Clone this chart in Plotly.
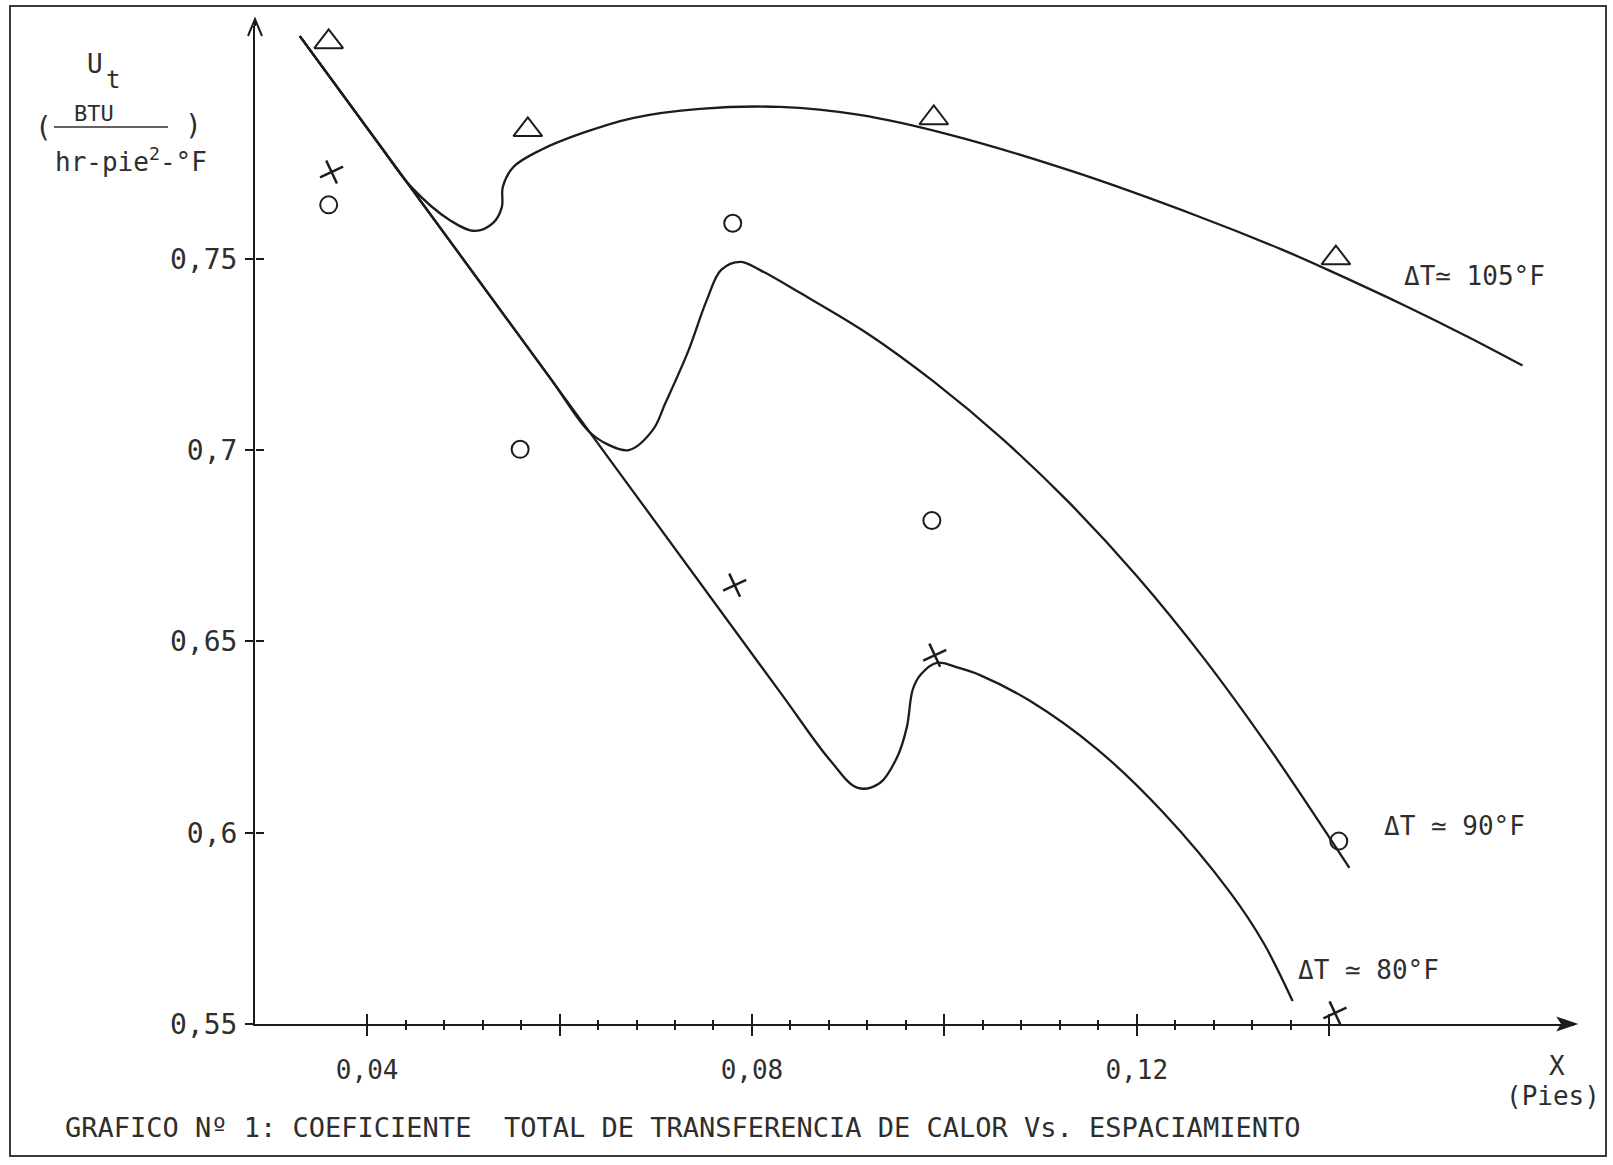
import plotly.graph_objects as go

# ---------------- data ----------------
# Hand-drawn curves (X in pies, Ut in BTU/hr-pie2-F)
curve105_x = [0.0330, 0.0413, 0.0445, 0.0486, 0.0512, 0.0531, 0.0540, 0.0541, 0.0552, 0.0580,
              0.0624, 0.0676, 0.0746, 0.0829, 0.0912, 0.1006, 0.1135, 0.1265, 0.1351, 0.1397,
              0.1480, 0.1545, 0.1601]
curve105_y = [0.8082, 0.7797, 0.7690, 0.7601, 0.7573, 0.7594, 0.7635, 0.7688, 0.7740, 0.7784,
              0.7829, 0.7868, 0.7892, 0.7897, 0.7876, 0.7824, 0.7727, 0.7610, 0.7524, 0.7473,
              0.7376, 0.7295, 0.7221]

curve90_x = [0.0330, 0.0460, 0.0590, 0.0630, 0.0650, 0.0672, 0.0697, 0.0710, 0.0733, 0.0753,
             0.0768, 0.0788, 0.0808, 0.0850, 0.0920, 0.0990, 0.1060, 0.1130, 0.1200, 0.1270,
             0.1340, 0.1421]
curve90_y = [0.8082, 0.7636, 0.7189, 0.7050, 0.7015, 0.7000, 0.7053, 0.7123, 0.7254, 0.7392,
             0.7471, 0.7492, 0.7471, 0.7411, 0.7305, 0.7177, 0.7030, 0.6862, 0.6671, 0.6455,
             0.6213, 0.5908]

curve80_x = [0.0330, 0.0560, 0.0829, 0.0881, 0.0910, 0.0933, 0.0951, 0.0961, 0.0967, 0.0975,
             0.0992, 0.1016, 0.1037, 0.1088, 0.1158, 0.1227, 0.1297, 0.1332, 0.1362]
curve80_y = [0.8082, 0.7292, 0.6368, 0.6190, 0.6117, 0.6130, 0.6198, 0.6276, 0.6373, 0.6412,
             0.6444, 0.6430, 0.6412, 0.6346, 0.6220, 0.6054, 0.5844, 0.5711, 0.5560]

# Measured points
tri_x = [0.0360, 0.0567, 0.0989, 0.1407]            # dT ~ 105 F
tri_y = [0.8067, 0.7837, 0.7868, 0.7502]
circ_x = [0.0360, 0.0559, 0.0780, 0.0987, 0.1410]   # dT ~ 90 F
circ_y = [0.7641, 0.7002, 0.7593, 0.6816, 0.5978]
cross_x = [0.0363, 0.0782, 0.0990, 0.1406]          # dT ~ 80 F
cross_y = [0.7727, 0.6647, 0.6464, 0.5529]

x_tickvals = [0.04, 0.06, 0.08, 0.10, 0.12, 0.14]
x_ticktext = ["0,04", " ", "0,08", " ", "0,12", " "]
y_tickvals = [0.55, 0.60, 0.65, 0.70, 0.75]
y_ticktext = ["0,55", "0,6", "0,65", "0,7", "0,75"]

series_labels = ["ΔT≃ 105°F", "ΔT ≃ 90°F", "ΔT ≃ 80°F"]
caption = "GRAFICO Nº 1: COEFICIENTE  TOTAL DE TRANSFERENCIA DE CALOR Vs. ESPACIAMIENTO"

# ---------------- layout geometry ----------------
W, H = 1613, 1165
L, R, T, B = 255, 1574, 26, 1024
X_RANGE = [0.02834, 0.16545]
Y_RANGE = [0.55, 0.81085]
FONT = "DejaVu Sans Mono"
INK = "#1c1c1c"
TXT = "#2e2e2e"


def px(x):
    return (x - L) / (R - L)


def py(y):
    return (B - y) / (B - T)


minor_vals = [round(a + k * 0.004, 4) for a in x_tickvals[:-1] for k in range(1, 5)]

fig = go.Figure()
line_style = dict(color=INK, width=2.3, shape="spline", smoothing=1.0)
for cx, cy in [(curve105_x, curve105_y), (curve90_x, curve90_y), (curve80_x, curve80_y)]:
    fig.add_trace(go.Scatter(x=cx, y=cy, mode="lines", line=line_style,
                             showlegend=False, hoverinfo="skip"))

# markers: triangles placed on the overlay axes (same ranges) so those axes are drawn
fig.add_trace(go.Scatter(x=tri_x, y=tri_y, mode="markers", showlegend=False,
                         xaxis="x2", yaxis="y2",
                         marker=dict(symbol="triangle-up-open", size=25, color=INK,
                                     line=dict(width=2, color=INK))))
fig.add_trace(go.Scatter(x=circ_x, y=circ_y, mode="markers", showlegend=False,
                         marker=dict(symbol="circle-open", size=17, color=INK,
                                     line=dict(width=2, color=INK))))
fig.add_trace(go.Scatter(x=cross_x, y=cross_y, mode="markers", showlegend=False,
                         marker=dict(symbol="x-thin", size=18, angle=20, color=INK,
                                     line=dict(width=2.5, color=INK))))

fig.update_layout(
    width=W, height=H,
    margin=dict(l=L, r=W - R, t=T, b=H - B, pad=0),
    paper_bgcolor="white", plot_bgcolor="white",
    font=dict(family=FONT, color=TXT),
    xaxis=dict(range=X_RANGE, showgrid=False, zeroline=False, showline=True,
               linecolor=INK, linewidth=2, ticks="outside", ticklen=10, tickwidth=2,
               tickcolor=INK, tickmode="array", tickvals=x_tickvals, ticktext=x_ticktext,
               tickfont=dict(family=FONT, size=26, color=TXT), ticklabelstandoff=12,
               minor=dict(tickmode="array", tickvals=minor_vals, ticks="outside",
                          ticklen=4, tickwidth=1.5, tickcolor=INK)),
    # upper halves of the crossing tick marks
    xaxis2=dict(range=X_RANGE, overlaying="x", anchor="free", position=0, side="top",
                showgrid=False, zeroline=False, showline=False, ticks="outside",
                ticklen=10, tickwidth=2, tickcolor=INK, tickmode="array",
                tickvals=x_tickvals, showticklabels=False,
                minor=dict(tickmode="array", tickvals=minor_vals, ticks="outside",
                           ticklen=4, tickwidth=1.5, tickcolor=INK)),
    yaxis=dict(range=Y_RANGE, showgrid=False, zeroline=False, showline=True,
               linecolor=INK, linewidth=2, ticks="outside", ticklen=8, tickwidth=2,
               tickcolor=INK, tickmode="array", tickvals=y_tickvals, ticktext=y_ticktext,
               tickfont=dict(family=FONT, size=28, color=TXT), ticklabelstandoff=2),
    # right halves of the crossing tick marks
    yaxis2=dict(range=Y_RANGE, overlaying="y", anchor="free", position=0, side="right",
                showgrid=False, zeroline=False, showline=False, ticks="outside",
                ticklen=8, tickwidth=2, tickcolor=INK, tickmode="array",
                tickvals=y_tickvals[1:], showticklabels=False),
)

ann = []


def text(t, x, y, size=26, xa="center", ya="middle"):
    ann.append(dict(text=t, x=px(x), y=py(y), xref="paper", yref="paper",
                    xanchor=xa, yanchor=ya, showarrow=False,
                    font=dict(family=FONT, size=size, color=TXT)))


# y-axis title
text("U", 95, 64, 26)
text("t", 113, 80, 24)
text("BTU", 94, 113, 22)
text("(", 43, 128, 28)
text(")", 193, 125, 28)
text("hr-pie<sup>2</sup>-°F", 53, 160, 26, xa="left")
# series labels
text(series_labels[0], 1402, 276, 26, xa="left")
text(series_labels[1], 1382, 826, 26, xa="left")
text(series_labels[2], 1296, 970, 26, xa="left")
# x-axis title
text("X", 1557, 1066, 26)
text("(Pies)", 1553, 1096, 26)
# caption
text(caption, 63, 1127, 27, xa="left")
fig.update_layout(annotations=ann)


def path(points, close=False):
    s = "M " + " L ".join(f"{px(a):.5f},{py(b):.5f}" for a, b in points)
    return s + (" Z" if close else "")


# axis arrowheads (x: filled head, y: open chevron)
fig.add_shape(type="path", xref="paper", yref="paper",
              path=path([(R + 2, B), (R - 16, B - 6), (R - 12, B), (R - 16, B + 6)], close=True),
              fillcolor=INK, line=dict(color=INK, width=1.5))
fig.add_shape(type="line", xref="paper", yref="paper", x0=px(L), x1=px(L),
              y0=py(T), y1=py(19), line=dict(color=INK, width=2))
fig.add_shape(type="path", xref="paper", yref="paper",
              path=path([(L - 7, 36), (L, 19), (L + 7, 36)]),
              line=dict(color=INK, width=2))

# fraction bar and page frame
fig.add_shape(type="line", xref="paper", yref="paper", x0=px(54), x1=px(168),
              y0=py(127), y1=py(127), line=dict(color=TXT, width=1.5))
fig.add_shape(type="rect", xref="paper", yref="paper", x0=px(10), x1=px(1606),
              y0=py(1156), y1=py(6), line=dict(color="#3a3a3a", width=2), layer="below")

fig.write_html("out.html", config={"displayModeBar": False},
               post_script="document.body.style.margin='0';"
                           "document.body.style.overflow='hidden';")
